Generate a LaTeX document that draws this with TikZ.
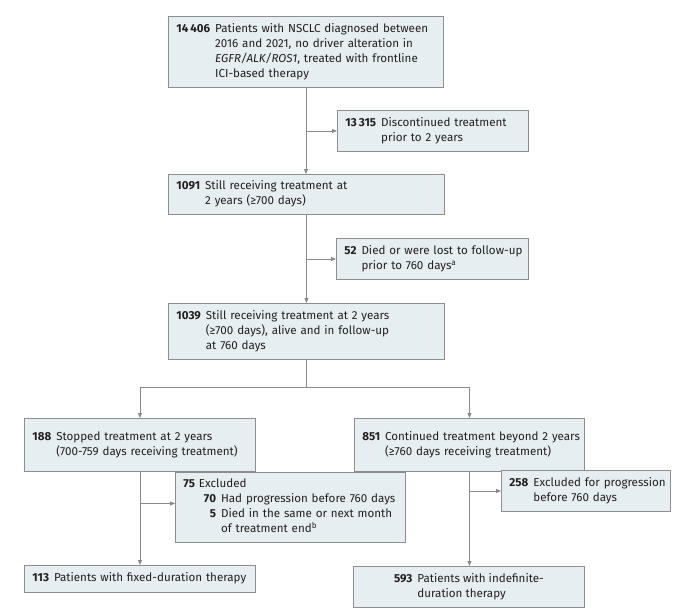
\documentclass[tikz,border=0pt]{standalone}
\usepackage{fontspec}
\setmainfont{Fira Sans}
\usetikzlibrary{arrows.meta}
\definecolor{boxfill}{HTML}{E6EEF1}
\definecolor{boxline}{HTML}{8E8E8E}
\definecolor{connclr}{HTML}{8A8A8A}
\definecolor{txt}{HTML}{231F20}
\tikzset{
  flowbox/.style={draw=boxline, fill=boxfill, line width=0.9pt, anchor=north west,
    inner xsep=8pt, inner ysep=0pt, font=\fontsize{11.6}{15}\selectfont, text=txt},
  leftbox/.style={flowbox, align=left},
  conn/.style={draw=connclr, line width=0.8pt},
  arr/.style={conn, -{Triangle[length=5pt,width=4pt]}}
}
\newcommand{\nr}[1]{\textbf{#1}}
\newenvironment{entry}{\begin{tabular}{@{}l@{\hspace{5pt}}l@{}}}{\end{tabular}}
\begin{document}
\begin{tikzpicture}[x=1pt,y=-1pt]
\useasboundingbox (0,0) rectangle (684,615);

\node[leftbox, minimum width=275pt, minimum height=71pt, text width=259pt] (b1) at (168,16)
  {\begin{entry}\nr{14\,406} & Patients with NSCLC diagnosed between\\
   & 2016 and 2021, no driver alteration in\\
   & \textit{EGFR/ALK/ROS1}, treated with frontline\\
   & ICI-based therapy\end{entry}};

\node[leftbox, minimum width=191pt, minimum height=41pt, text width=175pt] (b2) at (337,110)
  {\begin{entry}\nr{13\,315} & Discontinued treatment\\
   & prior to 2 years\end{entry}};

\node[leftbox, minimum width=276pt, minimum height=40pt, text width=260pt] (b3) at (168,174)
  {\begin{entry}\nr{1091} & Still receiving treatment at\\
   & 2 years (≥700 days)\end{entry}};

\node[leftbox, minimum width=192pt, minimum height=41pt, text width=176pt] (b4) at (336,238)
  {\begin{entry}\nr{52} & Died or were lost to follow-up\\
   & prior to 760 days\textsuperscript{a}\end{entry}};

\node[leftbox, minimum width=276pt, minimum height=56pt, text width=260pt] (b5) at (168,303)
  {\begin{entry}\nr{1039} & Still receiving treatment at 2 years\\
   & (≥700 days), alive and in follow-up\\
   & at 760 days\end{entry}};

\node[leftbox, minimum width=231pt, minimum height=53pt, text width=215pt] (b6) at (24,418)
  {\begin{entry}\nr{188} & Stopped treatment at 2 years\\
   & (700-759 days receiving treatment)\end{entry}};

\node[leftbox, minimum width=230pt, minimum height=53pt, text width=214pt] (b7) at (354,418)
  {\begin{entry}\nr{851} & Continued treatment beyond 2 years\\
   & (≥760 days receiving treatment)\end{entry}};

\node[leftbox, minimum width=230pt, minimum height=70pt, text width=214pt] (b8) at (175,472)
  {\begin{tabular}{@{}l@{\hspace{4pt}}r@{\hspace{5pt}}l@{}}
   \nr{75} & \multicolumn{2}{@{}l@{}}{Excluded}\\
   & \hspace{5pt}\nr{70} & Had progression before 760 days\\
   & \nr{5} & Died in the same or next month\\
   & & of treatment end\textsuperscript{b}\end{tabular}};

\node[leftbox, minimum width=169pt, minimum height=41pt, text width=153pt] (b9) at (501,470)
  {\begin{entry}\nr{258} & Excluded for progression\\
   & before 760 days\end{entry}};

\node[leftbox, minimum width=231pt, minimum height=27pt, text width=215pt] (b10) at (24,565)
  {\begin{entry}\nr{113} & Patients with fixed-duration therapy\end{entry}};

\node[flowbox, minimum width=231pt, minimum height=41pt] (b11) at (353,566)
  {\begin{entry}\nr{593} & Patients with indefinite-\\
   & duration therapy\end{entry}};

% connectors
\draw[arr] (b1.south) -- (b1.south |- b3.north);
\draw[arr] (b1.south |- b2.west) -- (b2.west);
\draw[arr] (b3.south) -- (b3.south |- b5.north);
\draw[arr] (b3.south |- b4.west) -- (b4.west);
\coordinate (split) at ([yshift=-27pt]b5.south);
\draw[conn] (b5.south) -- (split);
\draw[arr] (split) -| (b6.north);
\draw[arr] (split) -| (b7.north);
\coordinate (b8w) at ([yshift=4pt]b8.west);
\draw[arr] (b6.south) -- (b6.south |- b10.north);
\draw[arr] (b6.south |- b8w) -- (b8w);
\draw[arr] (b7.south) -- (b7.south |- b11.north);
\draw[arr] (b7.south |- b9.west) -- (b9.west);
\end{tikzpicture}
\end{document}
